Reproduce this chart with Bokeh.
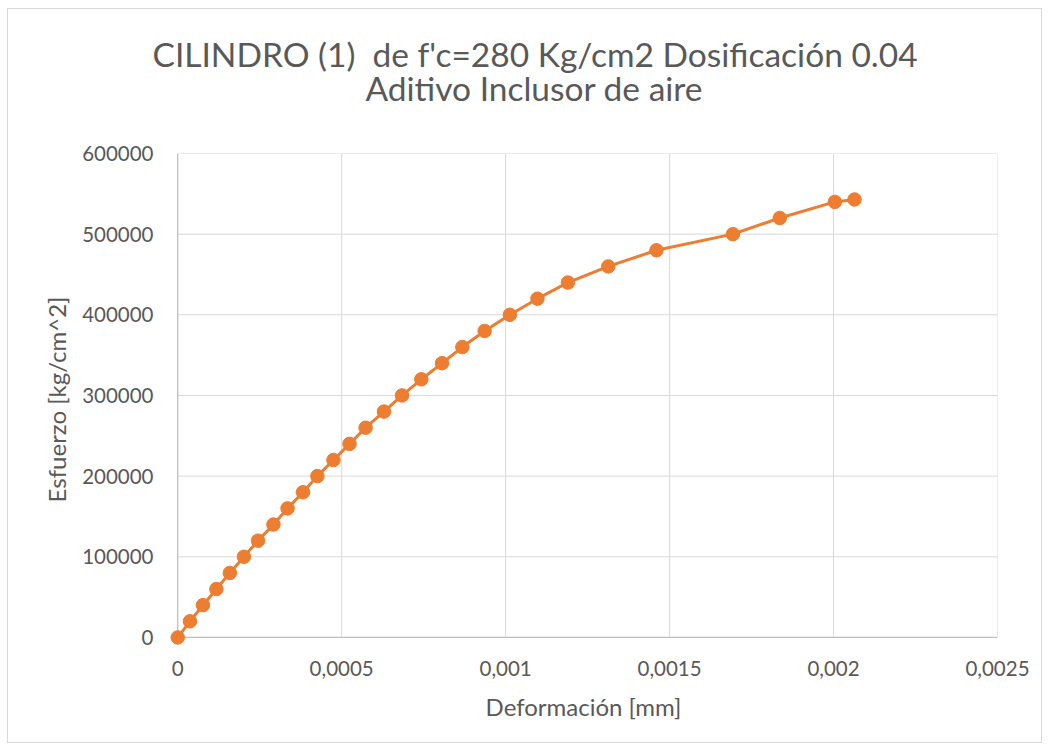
from bokeh.plotting import figure
from bokeh.models import Range1d, FixedTicker, CustomJSTickFormatter, ColumnDataSource, Title
from bokeh.embed import file_html
from bokeh.resources import INLINE

# Data
deformacion = [0.0, 0.0000375, 0.000077, 0.000118, 0.000159, 0.000202, 0.000245,
               0.000292, 0.000335, 0.000382, 0.000426, 0.000475, 0.000524, 0.000573,
               0.000629, 0.000684, 0.000743, 0.000806, 0.000868, 0.000936, 0.001013,
               0.001097, 0.00119, 0.001313, 0.00146, 0.001693, 0.001836, 0.002004,
               0.002064]
esfuerzo = [0, 20000, 40000, 60000, 80000, 100000, 120000, 140000, 160000, 180000,
            200000, 220000, 240000, 260000, 280000, 300000, 320000, 340000, 360000,
            380000, 400000, 420000, 440000, 460000, 480000, 500000, 520000, 540000,
            543000]
x_ticks = [0, 0.0005, 0.001, 0.0015, 0.002, 0.0025]
y_ticks = [0, 100000, 200000, 300000, 400000, 500000, 600000]

title_line1 = "CILINDRO (1)\u00a0 de f'c=280 Kg/cm2 Dosificación 0.04"
title_line2 = "Aditivo Inclusor de aire"
x_title = "Deformación [mm]"
y_title = "Esfuerzo [kg/cm^2]"

FONT = "Lato"
GREY = "#595959"
ORANGE = "#ED7D31"

p = figure(width=1035, height=735, output_backend="svg", toolbar_location=None,
           x_range=Range1d(-0.000025, 0.0025), y_range=Range1d(-10000, 600000),
           min_border_left=161, min_border_right=46, min_border_top=144,
           min_border_bottom=99)
p.margin = (8, 0, 0, 7)
p.styles = {"border": "1px solid #d9d9d9"}
p.outline_line_color = None
p.xgrid.visible = False
p.ygrid.visible = False

p.title.text = title_line1
p.title.align = "left"
p.title.offset = -17
p.title.text_font = FONT
p.title.text_font_size = "33.5px"
p.title.text_font_style = "normal"
p.title.text_color = GREY
p.title.standoff = -107
p.add_layout(Title(text=title_line2, align="left", offset=196, text_font=FONT,
                   text_font_size="33.5px", text_font_style="normal",
                   text_color=GREY, standoff=91), "above")

# grid lines derived from tick arrays
xmin, xmax = x_ticks[0], x_ticks[-1]
ymin, ymax = y_ticks[0], y_ticks[-1]
vx = [t for t in x_ticks if t != 0]
p.segment(x0=vx, y0=[ymin] * len(vx), x1=vx, y1=[ymax] * len(vx),
          line_color="#d9d9d9", line_width=1)
hy = [t for t in y_ticks if t != 0]
p.segment(x0=[xmin] * len(hy), y0=hy, x1=[xmax] * len(hy), y1=hy,
          line_color="#d9d9d9", line_width=1)
p.segment(x0=[xmin], y0=[ymin], x1=[xmin], y1=[ymax], line_color="#bfbfbf", line_width=1.3)
p.segment(x0=[xmin], y0=[ymin], x1=[xmax], y1=[ymin], line_color="#bfbfbf", line_width=1.3)

src = ColumnDataSource(dict(x=deformacion, y=esfuerzo))
p.line("x", "y", source=src, line_color=ORANGE, line_width=3)
p.scatter("x", "y", source=src, size=13.5, fill_color=ORANGE, line_color=ORANGE)

for ax in (p.xaxis[0], p.yaxis[0]):
    ax.axis_line_color = None
    ax.major_tick_line_color = None
    ax.minor_tick_line_color = None
    ax.major_tick_out = 0
    ax.major_tick_in = 0
    ax.major_label_text_font = FONT
    ax.major_label_text_font_size = "20.5px"
    ax.major_label_text_color = GREY
    ax.axis_label_text_font = FONT
    ax.axis_label_text_font_size = "24px"
    ax.axis_label_text_font_style = "normal"
    ax.axis_label_text_color = GREY

p.xaxis.ticker = FixedTicker(ticks=x_ticks)
p.yaxis.ticker = FixedTicker(ticks=y_ticks)
p.xaxis.formatter = CustomJSTickFormatter(
    code="return tick == 0 ? '0' : parseFloat(tick.toPrecision(6)).toString().replace('.', ',');")
p.yaxis.formatter = CustomJSTickFormatter(code="return Math.round(tick).toString();")
p.xaxis.axis_label = x_title
p.yaxis.axis_label = y_title
p.xaxis.major_label_standoff = 15
p.yaxis.major_label_standoff = 16
p.xaxis.axis_label_standoff = 13
p.yaxis.axis_label_standoff = 8

open("out.html", "w").write(file_html(p, INLINE))
